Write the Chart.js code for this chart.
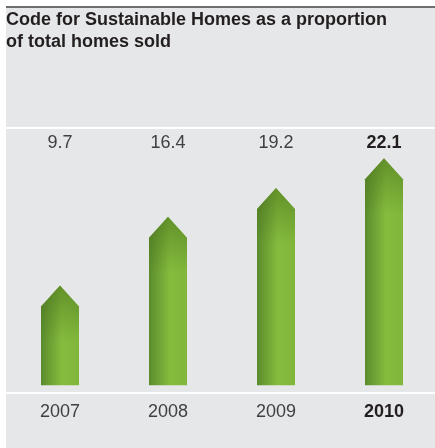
<!DOCTYPE html>
<html>
<head>
<meta charset="utf-8">
<script src="https://cdn.jsdelivr.net/npm/chart.js@4"></script>
<style>
  html, body { margin: 0; padding: 0; background: #fff; overflow: hidden; }
  #wrap { width: 438px; height: 448px; }
</style>
</head>
<body>
<div id="wrap"><canvas id="homesChart"></canvas></div>
<script>
// Homes built to the Code, % of total sold
const years = ["2007", "2008", "2009", "2010"];
const shares = [9.7, 16.4, 19.2, 22.1];
const titleLines = ["Code for Sustainable Homes as a proportion", "of total homes sold"];

const FONT = "'Liberation Sans', Arial, Helvetica, sans-serif";
const LAST = years.length - 1;

// gray panel, rule at the top, white line above the values
const panel = {
  id: "panel",
  beforeDraw(chart) {
    const { ctx, width, height, chartArea } = chart;
    ctx.save();
    ctx.fillStyle = "#ffffff";
    ctx.fillRect(0, 0, width, height);
    ctx.fillStyle = "#e6e7e9";
    ctx.fillRect(6, 8, width - 6, height - 8);
    ctx.fillStyle = "#6d6e70";
    ctx.fillRect(6, 6, width - 6, 2);
    ctx.fillStyle = "#ffffff";
    ctx.fillRect(6, chartArea.top - 1, width - 6, 2);
    ctx.restore();
  },
};

// arrow shaped bars + value row
const arrows = {
  id: "arrows",
  afterDatasetsDraw(chart) {
    const { ctx, chartArea } = chart;
    const meta = chart.getDatasetMeta(0);
    meta.data.forEach((bar, i) => {
      const half = bar.width / 2;
      const left = bar.x - half, right = bar.x + half;
      const tip = bar.y, base = bar.base;
      const shoulder = tip + 21;

      ctx.save();
      ctx.beginPath();
      ctx.moveTo(left, base);
      ctx.lineTo(left, shoulder);
      ctx.lineTo(bar.x, tip);
      ctx.lineTo(right, shoulder);
      ctx.lineTo(right, base);
      ctx.closePath();

      const g = ctx.createLinearGradient(left, 0, right, 0);
      g.addColorStop(0, "#5b8b2d");
      g.addColorStop(0.55, "#86bc3e");
      g.addColorStop(1, "#80b73b");
      ctx.fillStyle = g;
      ctx.fill();

      const v = ctx.createLinearGradient(0, tip, 0, shoulder + 35);
      v.addColorStop(0, "rgba(70,110,25,0.55)");
      v.addColorStop(1, "rgba(70,110,25,0)");
      ctx.fillStyle = v;
      ctx.fill();
      ctx.restore();

      ctx.save();
      ctx.font = (i === LAST ? "bold " : "") + "18px " + FONT;
      ctx.fillStyle = i === LAST ? "#231f20" : "#404040";
      ctx.textAlign = "center";
      ctx.textBaseline = "middle";
      ctx.fillText(String(shares[i]), bar.x, chartArea.top + 15);
      ctx.restore();
    });
  },
};

new Chart(document.getElementById("homesChart"), {
  type: "bar",
  data: {
    labels: years,
    datasets: [
      {
        data: shares,
        backgroundColor: "rgba(0,0,0,0)",
        barThickness: 38,
      },
    ],
  },
  options: {
    responsive: true,
    maintainAspectRatio: false,
    animation: false,
    layout: { padding: { left: 6, right: 0, top: 0, bottom: 25 } },
    plugins: {
      legend: { display: false },
      tooltip: { enabled: false },
      title: {
        display: true,
        text: titleLines,
        align: "start",
        color: "#231f20",
        font: { family: FONT, size: 18, weight: "bold", lineHeight: 1.22 },
        padding: { top: 9, bottom: 75 },
      },
    },
    scales: {
      x: {
        grid: { display: false },
        border: { display: true, color: "#ffffff", width: 2 },
        ticks: {
          padding: 0,
          color: (c) => (c.index === LAST ? "#231f20" : "#404040"),
          font: (c) => ({
            family: FONT,
            size: 18,
            weight: c.index === LAST ? "bold" : "normal",
          }),
        },
      },
      y: {
        display: false,
        min: -0.8,
        max: 25.05,
      },
    },
  },
  plugins: [panel, arrows],
});
</script>
</body>
</html>
